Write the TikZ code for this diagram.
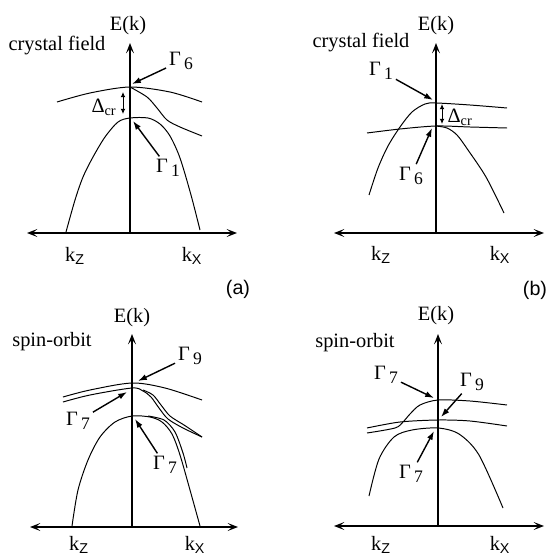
\documentclass[tikz,border=0pt]{standalone}
\usepackage{fontspec}
\setmainfont{Liberation Serif}
\setsansfont{Liberation Sans}
\usetikzlibrary{arrows.meta}
\newcommand{\gsub}[1]{\,\raisebox{-0.45ex}{\fontsize{12.5}{13}\selectfont #1}}

\begin{document}
\begin{tikzpicture}[x=0.025cm, y=-0.025cm,
  band/.style={line width=0.7pt},
  axis/.style={line width=0.8pt,
               {Stealth[length=2.6mm,width=2mm,inset=1.2mm]}-{Stealth[length=2.6mm,width=2mm,inset=1.2mm]}},
  eaxis/.style={line width=0.8pt, -{Stealth[length=2.6mm,width=2mm,inset=1.2mm]}},
  garr/.style={line width=1pt, -{Latex[length=2.2mm,width=1.5mm]}, shorten <=1pt},
  darr/.style={line width=0.7pt, {Latex[length=1.3mm,width=1.2mm]}-{Latex[length=1.3mm,width=1.2mm]}},
  lbl/.style={font=\fontsize{14.5}{16}\selectfont, inner sep=1pt},
  tag/.style={font=\sffamily\fontsize{14}{16}\selectfont, inner sep=1pt}
]
  \useasboundingbox (0,0) rectangle (558,558);

  % (a) crystal field
  \coordinate (aL) at (27,233);
  \coordinate (aR) at (237,233);
  \coordinate (aO) at (130,233);
  \coordinate (aT) at (130,43);
  \draw[axis] (aL) -- (aR);
  \draw[eaxis] (aO) -- (aT);
  \node[lbl] (aE) at (128,26) {E(k)};
  \node[lbl] (aTitle) at (57,46) {crystal field};
  \draw[band] plot[smooth] coordinates {(57,102) (90,93) (130,87) (170,92) (202,102)};
  \draw[band] plot[smooth] coordinates {(130,87) (147,97) (157,108) (167,120) (180,127) (202,136)};
  \draw[band] plot[smooth] coordinates {(66,232) (75,200) (83,177) (93,157) (105,137)
    (118,122) (130,118) (148,118) (160,124) (170,136) (180,158) (191,195) (200,230)};
  \coordinate (aDt) at (123,92);
  \coordinate (aDb) at (123,114);
  \draw[darr] (aDt) -- (aDb);
  \node[lbl] (aD) at (104,107) {Δ\textsubscript{cr}};
  \node[lbl] (aG6) at (181,61) {Γ\gsub{6}};
  \coordinate (aG6t) at (132,84);
  \draw[garr] (aG6) -- (aG6t);
  \node[lbl] (aG1) at (168,168) {Γ\gsub{1}};
  \coordinate (aG1t) at (133,121);
  \draw[garr] (aG1) -- (aG1t);
  \node[lbl] (aKz) at (75,256) {k\textsubscript{\sffamily Z}};
  \node[lbl] (aKx) at (192,256) {k\textsubscript{\sffamily X}};
  \node[tag] (aTag) at (238,289) {(a)};

  % (b) crystal field
  \coordinate (bL) at (334,233);
  \coordinate (bR) at (544,233);
  \coordinate (bO) at (436,233);
  \coordinate (bT) at (436,43);
  \draw[axis] (bL) -- (bR);
  \draw[eaxis] (bO) -- (bT);
  \node[lbl] (bE) at (436,26) {E(k)};
  \node[lbl] (bTitle) at (361,43) {crystal field};
  \draw[band] plot[smooth] coordinates {(369,195) (378,168) (388,146) (400,127) (412,112)
    (425,104) (436,103) (470,105) (507,108)};
  \draw[band] plot[smooth] coordinates {(367,133) (400,129) (436,126) (470,127) (507,128)};
  \draw[band] plot[smooth] coordinates {(436,126) (447,128) (457,135) (468,150) (486,177) (504,213)};
  \coordinate (bDt) at (442,104);
  \coordinate (bDb) at (442,124);
  \draw[darr] (bDt) -- (bDb);
  \node[lbl] (bD) at (460,117) {Δ\textsubscript{cr}};
  \node[lbl] (bG1) at (381,71) {Γ\gsub{1}};
  \coordinate (bG1t) at (433,100);
  \draw[garr] (bG1) -- (bG1t);
  \node[lbl] (bG6) at (411,176) {Γ\gsub{6}};
  \coordinate (bG6t) at (432,128);
  \draw[garr] (bG6) -- (bG6t);
  \node[lbl] (bKz) at (381,255) {k\textsubscript{\sffamily Z}};
  \node[lbl] (bKx) at (500,255) {k\textsubscript{\sffamily X}};
  \node[tag] (bTag) at (535,290) {(b)};

  % (c) spin-orbit
  \coordinate (cL) at (30,527);
  \coordinate (cR) at (238,527);
  \coordinate (cO) at (132,527);
  \coordinate (cT) at (132,334);
  \draw[axis] (cL) -- (cR);
  \draw[eaxis] (cO) -- (cT);
  \node[lbl] (cE) at (132,318) {E(k)};
  \node[lbl] (cTitle) at (52,342) {spin-orbit};
  \draw[band] plot[smooth] coordinates {(63,397) (90,390) (132,383) (165,388) (202,400)};
  \draw[band] plot[smooth] coordinates {(63,402) (90,395) (132,388) (143,391) (151,397)
    (159,408) (168,419) (183,428) (202,437)};
  \draw[band] plot[smooth] coordinates {(143,390) (153,395) (161,405) (170,416) (184,425) (202,437)};
  \draw[band] plot[smooth] coordinates {(72,526) (78,490) (88,460) (100,437) (115,422)
    (132,416) (150,417) (162,422) (172,434) (180,455) (190,490) (200,526)};
  \draw[band] plot[smooth] coordinates {(148,416) (164,420) (175,432) (183,453) (187,468)};
  \node[lbl] (cG9) at (190,356) {Γ\gsub{9}};
  \coordinate (cG9t) at (138,381);
  \draw[garr] (cG9) -- (cG9t);
  \node[lbl] (cG7a) at (78,421) {Γ\gsub{7}};
  \coordinate (cG7at) at (127,392);
  \draw[garr] (cG7a) -- (cG7at);
  \node[lbl] (cG7b) at (165,465) {Γ\gsub{7}};
  \coordinate (cG7bt) at (135,419);
  \draw[garr] (cG7b) -- (cG7bt);
  \node[lbl] (cKz) at (79,545) {k\textsubscript{\sffamily Z}};
  \node[lbl] (cKx) at (195,545) {k\textsubscript{\sffamily X}};

  % (d) spin-orbit
  \coordinate (dL) at (334,526);
  \coordinate (dR) at (544,526);
  \coordinate (dO) at (438,526);
  \coordinate (dT) at (438,334);
  \draw[axis] (dL) -- (dR);
  \draw[eaxis] (dO) -- (dT);
  \node[lbl] (dE) at (436,316) {E(k)};
  \node[lbl] (dTitle) at (355,343) {spin-orbit};
  \draw[band] plot[smooth] coordinates {(367,428) (400,422) (438,420) (470,421) (507,426)};
  \draw[band] plot[smooth] coordinates {(367,433) (395,428) (403,422) (410,414) (420,405)
    (438,400) (470,401) (507,405)};
  \draw[band] plot[smooth] coordinates {(369,496) (379,459) (394,437) (412,430) (438,428)
    (459,434) (479,455) (503,508)};
  \node[lbl] (dG7a) at (386,375) {Γ\gsub{7}};
  \coordinate (dG7at) at (434,398);
  \draw[garr] (dG7a) -- (dG7at);
  \node[lbl] (dG9) at (472,382) {Γ\gsub{9}};
  \coordinate (dG9t) at (441,417);
  \draw[garr] (dG9) -- (dG9t);
  \node[lbl] (dG7b) at (411,474) {Γ\gsub{7}};
  \coordinate (dG7bt) at (434,431);
  \draw[garr] (dG7b) -- (dG7bt);
  \node[lbl] (dKz) at (381,545) {k\textsubscript{\sffamily Z}};
  \node[lbl] (dKx) at (500,545) {k\textsubscript{\sffamily X}};
\end{tikzpicture}
\end{document}
